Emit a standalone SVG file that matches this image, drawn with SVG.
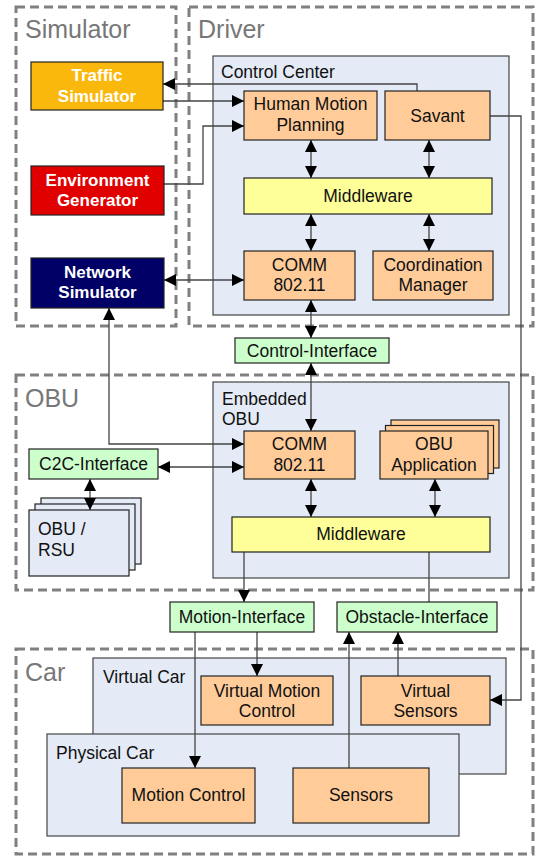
<svg xmlns="http://www.w3.org/2000/svg" width="541" height="861" viewBox="0 0 541 861">
<defs>
<marker id="ah" markerUnits="userSpaceOnUse" markerWidth="12" markerHeight="12" refX="12" refY="6" orient="auto-start-reverse" overflow="visible"><path d="M0,0 L12,6 L0,12 z" fill="#000"/></marker>
<style>
.grp{fill:none;stroke:#808080;stroke-width:3;stroke-dasharray:9 5}
.gt{font-family:"Liberation Sans",Arial,sans-serif;font-size:25px;fill:#777}
.cont{fill:#e4eaf6;stroke:#444;stroke-width:1.2}
.box{stroke:#222;stroke-width:1.2}
.or{fill:#ffcc99}
.ye{fill:#ffff99}
.gr{fill:#ccffcc}
.t{font-family:"Liberation Sans",Arial,sans-serif;font-size:17.5px;fill:#111;text-anchor:middle}
.tl{font-family:"Liberation Sans",Arial,sans-serif;font-size:17.5px;fill:#111}
.tb{font-family:"Liberation Sans",Arial,sans-serif;font-size:17px;font-weight:bold;fill:#fff;text-anchor:middle}
.c{fill:none;stroke:#444;stroke-width:1.3}
</style>
</defs>
<rect width="541" height="861" fill="#fff"/>

<g id="group-simulator"><rect class="grp" x="16" y="7" width="160" height="319"/><text class="gt" x="25" y="38">Simulator</text></g>
<g id="group-driver"><rect class="grp" x="189" y="7" width="344" height="319"/><text class="gt" x="198" y="38">Driver</text></g>
<g id="group-obu"><rect class="grp" x="16" y="375" width="517" height="215"/><text class="gt" x="25" y="407">OBU</text></g>
<g id="group-car"><rect class="grp" x="16" y="649" width="517" height="205"/><text class="gt" x="25" y="681">Car</text></g>

<g id="control-center"><rect class="cont" x="213" y="56" width="296" height="259"/><text class="tl" x="221" y="78">Control Center</text></g>
<g id="embedded-obu"><rect class="cont" x="213" y="382" width="296" height="196"/><text class="tl" x="222" y="405">Embedded</text><text class="tl" x="222" y="425">OBU</text></g>
<g id="virtual-car"><rect class="cont" x="93" y="658" width="413" height="116"/><text class="tl" x="103" y="683">Virtual Car</text></g>
<g id="physical-car"><rect class="cont" x="47" y="734" width="412" height="102"/><text class="tl" x="56" y="759">Physical Car</text></g>

<g id="obu-rsu"><rect class="box cont" x="41" y="498" width="100" height="66"/><rect class="box cont" x="35" y="504" width="100" height="66"/><rect class="box cont" x="29" y="510" width="100" height="66"/><text class="tl" x="38" y="535">OBU /</text><text class="tl" x="38" y="556">RSU</text></g>

<g id="connectors">
<polyline class="c" points="417,91 417,84 163,84" marker-end="url(#ah)"/>
<line class="c" x1="163" y1="101" x2="244" y2="101" marker-end="url(#ah)"/>
<polyline class="c" points="164,184 203,184 203,126 244,126" marker-end="url(#ah)"/>
<line class="c" x1="311" y1="140" x2="311" y2="178" marker-start="url(#ah)" marker-end="url(#ah)"/>
<line class="c" x1="429" y1="140" x2="429" y2="178" marker-start="url(#ah)" marker-end="url(#ah)"/>
<line class="c" x1="311" y1="214" x2="311" y2="251" marker-start="url(#ah)" marker-end="url(#ah)"/>
<line class="c" x1="429" y1="214" x2="429" y2="251" marker-start="url(#ah)" marker-end="url(#ah)"/>
<line class="c" x1="164" y1="280" x2="244" y2="280" marker-start="url(#ah)" marker-end="url(#ah)"/>
<line class="c" x1="311" y1="300" x2="311" y2="338" marker-start="url(#ah)" marker-end="url(#ah)"/>
<line class="c" x1="311" y1="363" x2="311" y2="431" marker-start="url(#ah)" marker-end="url(#ah)"/>
<polyline class="c" points="490,116 521,116 521,700 490,700" marker-end="url(#ah)"/>
<polyline class="c" points="109,308 109,444 244,444" marker-start="url(#ah)" marker-end="url(#ah)"/>
<line class="c" x1="158" y1="467" x2="244" y2="467" marker-start="url(#ah)" marker-end="url(#ah)"/>
<line class="c" x1="90" y1="479" x2="90" y2="510" marker-start="url(#ah)" marker-end="url(#ah)"/>
<line class="c" x1="311" y1="479" x2="311" y2="517" marker-start="url(#ah)" marker-end="url(#ah)"/>
<line class="c" x1="435" y1="479" x2="435" y2="517" marker-start="url(#ah)" marker-end="url(#ah)"/>
<line class="c" x1="244" y1="552" x2="244" y2="602" marker-end="url(#ah)"/>
<line class="c" x1="429" y1="552" x2="429" y2="602"/>
<line class="c" x1="195" y1="632" x2="195" y2="768" marker-end="url(#ah)"/>
<line class="c" x1="257" y1="632" x2="257" y2="676" marker-end="url(#ah)"/>
<line class="c" x1="349" y1="768" x2="349" y2="632" marker-end="url(#ah)"/>
<line class="c" x1="398" y1="676" x2="398" y2="632" marker-end="url(#ah)"/>
</g>

<g id="traffic-simulator"><rect class="box" x="31" y="62" width="132" height="48" fill="#fbb80c"/><text class="tb" x="97" y="81">Traffic</text><text class="tb" x="97" y="102">Simulator</text></g>
<g id="environment-generator"><rect class="box" x="31" y="166" width="133" height="49" fill="#e00000"/><text class="tb" x="97.5" y="186">Environment</text><text class="tb" x="97.5" y="206">Generator</text></g>
<g id="network-simulator"><rect class="box" x="31" y="258" width="133" height="50" fill="#000066"/><text class="tb" x="97.5" y="278">Network</text><text class="tb" x="97.5" y="298">Simulator</text></g>

<g id="human-motion-planning"><rect class="box or" x="244" y="91" width="133" height="49"/><text class="t" x="310.5" y="110">Human Motion</text><text class="t" x="310.5" y="131">Planning</text></g>
<g id="savant"><rect class="box or" x="385" y="91" width="105" height="49"/><text class="t" x="437.5" y="122">Savant</text></g>
<g id="middleware-driver"><rect class="box ye" x="244" y="178" width="248" height="36"/><text class="t" x="368" y="202">Middleware</text></g>
<g id="comm-driver"><rect class="box or" x="244" y="251" width="111" height="49"/><text class="t" x="299.5" y="271">COMM</text><text class="t" x="299.5" y="291">802.11</text></g>
<g id="coordination-manager"><rect class="box or" x="373" y="251" width="120" height="49"/><text class="t" x="433" y="271">Coordination</text><text class="t" x="433" y="291">Manager</text></g>

<g id="control-interface"><rect class="box gr" x="235" y="338" width="154" height="25"/><text class="t" x="312" y="356.5">Control-Interface</text></g>

<g id="comm-obu"><rect class="box or" x="244" y="431" width="111" height="48"/><text class="t" x="299.5" y="450">COMM</text><text class="t" x="299.5" y="471">802.11</text></g>
<g id="obu-application"><rect class="box or" x="391" y="420" width="108" height="48"/><rect class="box or" x="385.5" y="425.5" width="108" height="48"/><rect class="box or" x="380" y="431" width="108" height="48"/><text class="t" x="434" y="450">OBU</text><text class="t" x="434" y="471">Application</text></g>
<g id="middleware-obu"><rect class="box ye" x="232" y="517" width="258" height="35"/><text class="t" x="361" y="540">Middleware</text></g>
<g id="c2c-interface"><rect class="box gr" x="29" y="449" width="129" height="30"/><text class="t" x="93.5" y="470">C2C-Interface</text></g>

<g id="motion-interface"><rect class="box gr" x="170" y="602" width="144" height="30"/><text class="t" x="242" y="623">Motion-Interface</text></g>
<g id="obstacle-interface"><rect class="box gr" x="337" y="602" width="160" height="30"/><text class="t" x="417" y="623">Obstacle-Interface</text></g>

<g id="virtual-motion-control"><rect class="box or" x="201" y="676" width="132" height="49"/><text class="t" x="267" y="697">Virtual Motion</text><text class="t" x="267" y="717">Control</text></g>
<g id="virtual-sensors"><rect class="box or" x="361" y="676" width="129" height="49"/><text class="t" x="425.5" y="697">Virtual</text><text class="t" x="425.5" y="717">Sensors</text></g>
<g id="motion-control"><rect class="box or" x="122" y="768" width="133" height="55"/><text class="t" x="188.5" y="801">Motion Control</text></g>
<g id="sensors"><rect class="box or" x="293" y="768" width="136" height="55"/><text class="t" x="361" y="801">Sensors</text></g>
</svg>
